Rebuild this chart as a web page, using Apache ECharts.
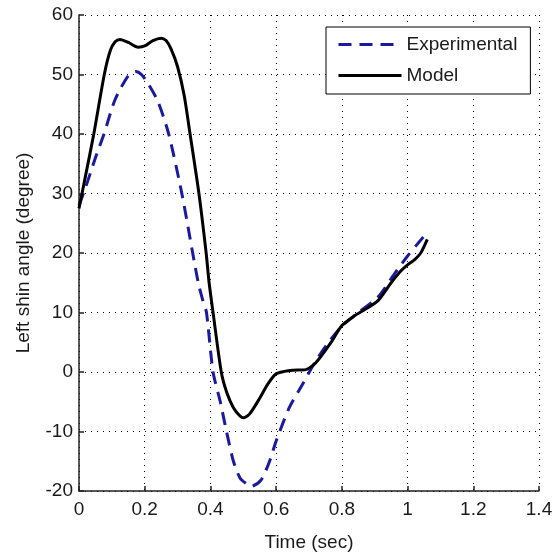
<!DOCTYPE html>
<html>
<head>
<meta charset="utf-8">
<script src="https://cdn.jsdelivr.net/npm/echarts@6/dist/echarts.min.js"></script>
<style>
html,body{margin:0;padding:0;background:#fff;}
#c{width:558px;height:559px;}
</style>
</head>
<body>
<div id="c"></div>
<script>
// Data
var expTime = [0, 0.02, 0.05, 0.076, 0.11, 0.15, 0.173, 0.19, 0.21, 0.24, 0.273, 0.313, 0.346, 0.363, 0.377, 0.388, 0.408, 0.43, 0.449, 0.47, 0.49, 0.51, 0.525, 0.555, 0.58, 0.6, 0.64, 0.68, 0.72, 0.76, 0.8, 0.85, 0.91, 0.96, 1.0, 1.03, 1.06];
var expAngle = [28, 31, 36, 40, 45.8, 49.8, 50.5, 50, 48.5, 45.5, 40, 30, 20, 15, 12, 10, 0, -5, -10, -15, -17.8, -18.8, -19.2, -18.1, -15, -11.6, -6, -2.1, 1.8, 5, 7.7, 10, 12.6, 16.5, 19.5, 21.5, 23.5];
var modelTime = [0, 0.02, 0.045, 0.077, 0.095, 0.11, 0.125, 0.15, 0.18, 0.2, 0.225, 0.25, 0.265, 0.28, 0.3, 0.32, 0.338, 0.365, 0.387, 0.396, 0.408, 0.433, 0.45, 0.47, 0.49, 0.501, 0.52, 0.55, 0.575, 0.6, 0.625, 0.65, 0.69, 0.72, 0.77, 0.8, 0.84, 0.87, 0.91, 0.95, 0.98, 1.0, 1.02, 1.04, 1.06];
var modelAngle = [27.5, 33, 40, 50, 54, 55.5, 55.9, 55.4, 54.6, 54.8, 55.7, 56.1, 55.7, 54.3, 51.3, 46.5, 40, 30, 20, 15, 10, 0, -3.5, -6, -7.4, -7.7, -7, -4.4, -2, -0.3, 0.1, 0.3, 0.4, 1.5, 5.2, 7.8, 9.5, 10.5, 12, 15, 17, 18, 18.8, 20, 22.3];
var xTickLabels = ['0', '0.2', '0.4', '0.6', '0.8', '1', '1.2', '1.4'];
var yTickLabels = ['-20', '-10', '0', '10', '20', '30', '40', '50', '60'];
var seriesNames = ['Experimental', 'Model'];
var xTitle = 'Time (sec)';
var yTitle = 'Left shin angle (degree)';

function pairs(xs, ys) { return xs.map(function (x, i) { return [x, ys[i]]; }); }

var FONT = 'Liberation Sans, Arial, sans-serif';
var TXT = '#1a1a1a';
var chart = echarts.init(document.getElementById('c'), null, { renderer: 'canvas' });
chart.setOption({
  backgroundColor: '#ffffff',
  animation: false,
  grid: { left: 79, right: 19, top: 15, bottom: 68, containLabel: false },
  legend: {
    orient: 'vertical',
    left: 326, top: 27,
    padding: [8, 13, 9, 11],
    itemWidth: 63, itemHeight: 20, itemGap: 12, itemTextGap: 4,
    borderColor: '#000', borderWidth: 1, backgroundColor: '#fff',
    itemStyle: { opacity: 0 },
    lineStyle: { width: 3 },
    textStyle: { fontFamily: FONT, fontSize: 19, color: TXT },
    data: seriesNames
  },
  xAxis: {
    type: 'value', min: 0, max: 1.4, interval: 0.2,
    name: xTitle, nameLocation: 'middle', nameGap: 42,
    nameTextStyle: { fontFamily: FONT, fontSize: 19, color: TXT },
    axisLine: { show: true, onZero: false, lineStyle: { color: '#222', width: 1.5 } },
    axisTick: { show: true, inside: true, length: 5, lineStyle: { color: '#222', width: 1.5 } },
    axisLabel: {
      margin: 9, fontFamily: FONT, fontSize: 19, color: TXT,
      formatter: function (v) { return xTickLabels[Math.round(v / 0.2)]; }
    },
    splitLine: { show: true, lineStyle: { color: '#000', width: 1, type: [1, 5] } }
  },
  yAxis: {
    type: 'value', min: -20, max: 60, interval: 10,
    name: yTitle, nameLocation: 'middle', nameGap: 46, nameRotate: 90,
    nameTextStyle: { fontFamily: FONT, fontSize: 19, color: TXT },
    axisLine: { show: true, onZero: false, lineStyle: { color: '#222', width: 1.5 } },
    axisTick: { show: true, inside: true, length: 5, lineStyle: { color: '#222', width: 1.5 } },
    axisLabel: {
      margin: 6, fontFamily: FONT, fontSize: 19, color: TXT,
      formatter: function (v) { return yTickLabels[Math.round((v + 20) / 10)]; }
    },
    splitLine: { show: true, lineStyle: { color: '#000', width: 1, type: [1, 5] } }
  },
  series: [
    {
      name: seriesNames[0], type: 'line', symbol: 'none', smooth: 0.25,
      data: pairs(expTime, expAngle),
      lineStyle: { color: '#1a1aa0', width: 3, type: [13, 8] },
      itemStyle: { color: '#1a1aa0' }
    },
    {
      name: seriesNames[1], type: 'line', symbol: 'none', smooth: 0.25,
      data: pairs(modelTime, modelAngle),
      lineStyle: { color: '#000', width: 3, type: 'solid' },
      itemStyle: { color: '#000' }
    }
  ]
});
</script>
</body>
</html>
